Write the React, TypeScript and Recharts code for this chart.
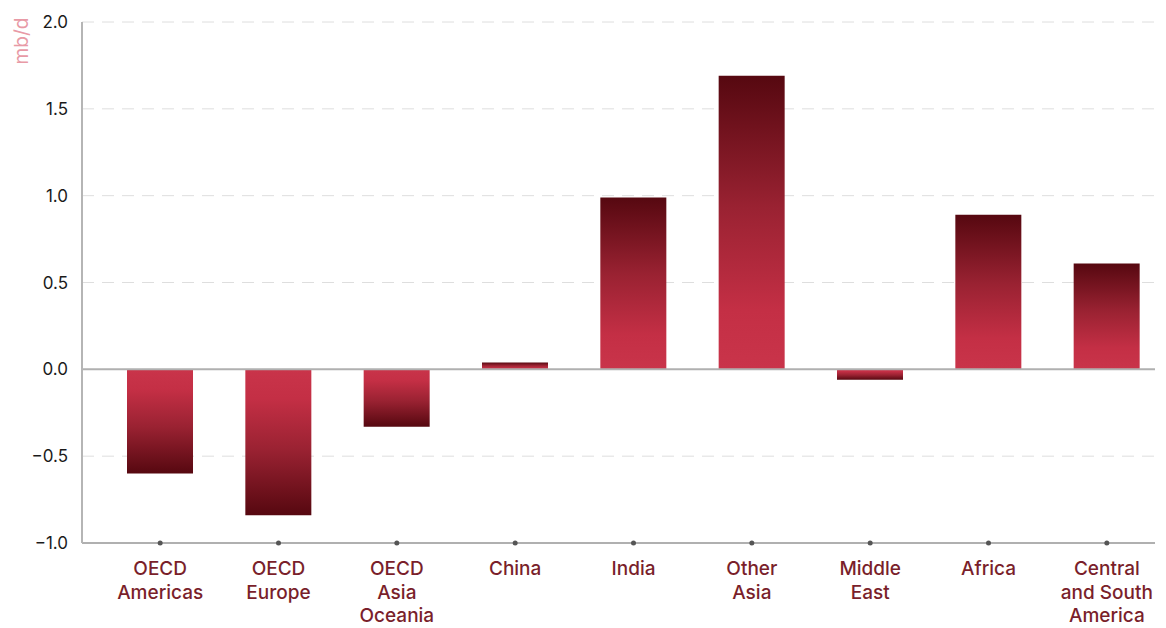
import { Bar, BarChart, CartesianGrid, Cell, ReferenceLine, XAxis, YAxis } from "recharts";

const REGIONS = [
  "OECD Americas",
  "OECD Europe",
  "OECD Asia Oceania",
  "China",
  "India",
  "Other Asia",
  "Middle East",
  "Africa",
  "Central and South America",
];
const REGION_LINES = [
  ["OECD", "Americas"],
  ["OECD", "Europe"],
  ["OECD", "Asia", "Oceania"],
  ["China"],
  ["India"],
  ["Other", "Asia"],
  ["Middle", "East"],
  ["Africa"],
  ["Central", "and South", "America"],
];
const CHANGE = [-0.6, -0.84, -0.33, 0.04, 0.99, 1.69, -0.06, 0.89, 0.61];
const Y_TICKS = [-1, -0.5, 0, 0.5, 1, 1.5, 2];

const FONT = "Inter, 'DejaVu Sans', sans-serif";
const LABEL_RED = "#7a1f2b";

const data = REGIONS.map((region, i) => ({ region, value: CHANGE[i] }));

function RegionTick({ x, y, payload }: any) {
  const lines = REGION_LINES[payload.index] ?? [payload.value];
  return (
    <g>
      <circle cx={x} cy={y} r={2.5} fill="#555" />
      <text x={x} y={y + 32} textAnchor="middle" fill={LABEL_RED} fontSize={19} fontWeight={500} fontFamily={FONT}>
        {lines.map((line: string, i: number) => (
          <tspan key={line} x={x} dy={i === 0 ? 0 : 23.5}>
            {line}
          </tspan>
        ))}
      </text>
    </g>
  );
}

const formatTick = (v: number) => (v < 0 ? "\u2212" + Math.abs(v).toFixed(1) : v.toFixed(1));

export default function App() {
  return (
    <div style={{ position: "absolute", left: 0, top: 0, background: "#fff" }}>
      <BarChart width={1166} height={628} data={data} margin={{ top: 22, right: 11, bottom: 0, left: 0 }}>
        <defs>
          <linearGradient id="posFill" x1="0" y1="0" x2="0" y2="1">
            <stop offset="0%" stopColor="#560810" />
            <stop offset="45%" stopColor="#9a2232" />
            <stop offset="80%" stopColor="#c42f45" />
            <stop offset="100%" stopColor="#c9344a" />
          </linearGradient>
          <linearGradient id="negFill" x1="0" y1="0" x2="0" y2="1">
            <stop offset="0%" stopColor="#c9344a" />
            <stop offset="20%" stopColor="#c42f45" />
            <stop offset="55%" stopColor="#9a2232" />
            <stop offset="100%" stopColor="#560810" />
          </linearGradient>
        </defs>
        <CartesianGrid vertical={false} stroke="#dedede" strokeDasharray="12 8" />
        <XAxis
          dataKey="region"
          interval={0}
          height={85}
          padding={{ left: 19, right: -11 }}
          axisLine={{ stroke: "#b0b0b0", strokeWidth: 2 }}
          tickLine={false}
          tickSize={0}
          tickMargin={0}
          tick={<RegionTick />}
        />
        <YAxis
          width={82}
          domain={[-1, 2]}
          ticks={Y_TICKS}
          interval={0}
          tickFormatter={formatTick}
          axisLine={{ stroke: "#b5b5b5", strokeWidth: 2 }}
          tickLine={false}
          tickSize={0}
          tickMargin={14}
          tick={{ fill: "#1a1a1a", fontSize: 17, fontFamily: FONT }}
          label={{
            content: () => (
              <text
                x={28}
                y={41}
                transform="rotate(-90 28 41)"
                textAnchor="middle"
                fill="#e89aa6"
                fontSize={19}
                fontFamily={FONT}
              >
                mb/d
              </text>
            ),
          }}
        />
        <ReferenceLine y={0} stroke="#b0b0b0" strokeWidth={2} />
        <Bar dataKey="value" barSize={66} isAnimationActive={false}>
          {data.map((d) => (
            <Cell key={d.region} fill={d.value >= 0 ? "url(#posFill)" : "url(#negFill)"} />
          ))}
        </Bar>
      </BarChart>
    </div>
  );
}
